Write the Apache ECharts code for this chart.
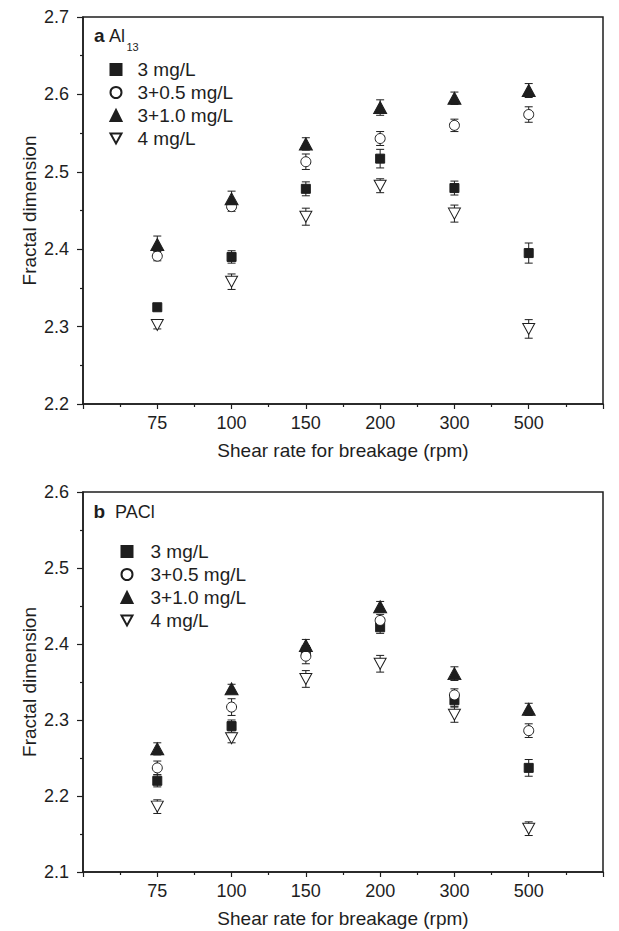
<!DOCTYPE html>
<html>
<head>
<meta charset="utf-8">
<script src="https://cdn.jsdelivr.net/npm/echarts@6/dist/echarts.min.js"></script>
<style>html,body{margin:0;padding:0;background:#fff;}#c{width:619px;height:931px;}</style>
</head>
<body>
<div id="c"></div>
<script>
// ---- data ----
const categories = ['75', '100', '150', '200', '300', '500'];
const seriesNames = ['3 mg/L', '3+0.5 mg/L', '3+1.0 mg/L', '4 mg/L'];
const yTicksA = ['2.2', '2.3', '2.4', '2.5', '2.6', '2.7'];
const yTicksB = ['2.1', '2.2', '2.3', '2.4', '2.5', '2.6'];

// panel a: Al13
const a_3      = [2.325, 2.390, 2.478, 2.517, 2.479, 2.395];
const a_3_05   = [2.391, 2.455, 2.513, 2.543, 2.560, 2.574];
const a_3_10   = [2.406, 2.465, 2.536, 2.583, 2.595, 2.605];
const a_4      = [2.302, 2.358, 2.442, 2.482, 2.446, 2.297];
const a_3_err    = [0.003, 0.008, 0.009, 0.012, 0.009, 0.013];
const a_3_05_err = [0.006, 0.006, 0.010, 0.009, 0.008, 0.010];
const a_3_10_err = [0.011, 0.010, 0.008, 0.010, 0.008, 0.009];
const a_4_err    = [0.005, 0.010, 0.011, 0.009, 0.011, 0.012];

// panel b: PACl
const b_3      = [2.220, 2.292, 2.390, 2.422, 2.326, 2.237];
const b_3_05   = [2.237, 2.317, 2.384, 2.431, 2.333, 2.286];
const b_3_10   = [2.262, 2.341, 2.398, 2.449, 2.361, 2.314];
const b_4      = [2.186, 2.276, 2.354, 2.374, 2.307, 2.157];
const b_3_err    = [0.008, 0.008, 0.008, 0.008, 0.008, 0.011];
const b_3_05_err = [0.009, 0.011, 0.010, 0.008, 0.008, 0.009];
const b_3_10_err = [0.008, 0.006, 0.008, 0.007, 0.009, 0.008];
const b_4_err    = [0.009, 0.006, 0.011, 0.011, 0.010, 0.009];

// ---- build ----
const FONT = 'Liberation Sans, Arial, Helvetica, sans-serif';
const INK = '#1e1e1e';
const downTri = 'path://M0,0 L10,0 L5,9 Z';
const symbols = [
  {symbol: 'rect', size: 9, fill: INK},
  {symbol: 'circle', size: 10, fill: '#fff'},
  {symbol: 'triangle', size: [13, 12], fill: INK},
  {symbol: downTri, size: [12, 11], fill: '#fff'}
];
// category index -> position on the value axis (categories sit on even units)
const xPos = categories.map((c, i) => (i + 1) * 2);

const chart = echarts.init(document.getElementById('c'), null, {renderer: 'svg'});

function xAxisDef(gridIndex) {
  return {
    type: 'value', gridIndex, min: 0, max: 14, interval: 2,
    name: 'Shear rate for breakage (rpm)', nameLocation: 'middle', nameGap: 37,
    nameMoveOverlap: false,
    nameTextStyle: {fontFamily: FONT, fontSize: 19, color: INK},
    axisLine: {lineStyle: {color: INK, width: 1.5}},
    axisTick: {length: 5, lineStyle: {color: INK, width: 1.2}},
    minorTick: {show: true, splitNumber: 2, length: 3, lineStyle: {color: INK, width: 1.2}},
    splitLine: {show: false},
    axisLabel: {
      fontFamily: FONT, fontSize: 18, color: INK, margin: 10,
      formatter: v => (v > 0 && v < 14 && v % 2 === 0) ? categories[v / 2 - 1] : ''
    }
  };
}
function yAxisDef(gridIndex, ticks) {
  return {
    type: 'value', gridIndex,
    min: parseFloat(ticks[0]), max: parseFloat(ticks[ticks.length - 1]), interval: 0.1,
    name: 'Fractal dimension', nameLocation: 'middle', nameGap: 44, nameRotate: 90,
    nameMoveOverlap: false,
    nameTextStyle: {fontFamily: FONT, fontSize: 19, color: INK},
    axisLine: {show: true, lineStyle: {color: INK, width: 1.5}},
    axisTick: {length: 6, lineStyle: {color: INK, width: 1.2}},
    minorTick: {show: true, splitNumber: 2, length: 3, lineStyle: {color: INK, width: 1.2}},
    splitLine: {show: false},
    axisLabel: {fontFamily: FONT, fontSize: 18, color: INK, margin: 14,
      formatter: v => v.toFixed(1)}
  };
}

const panels = [
  {vals: [a_3, a_3_05, a_3_10, a_4], errs: [a_3_err, a_3_05_err, a_3_10_err, a_4_err]},
  {vals: [b_3, b_3_05, b_3_10, b_4], errs: [b_3_err, b_3_05_err, b_3_10_err, b_4_err]}
];

const series = [];
panels.forEach((p, pi) => {
  p.vals.forEach((vals, si) => {
    const s = symbols[si];
    series.push({
      type: 'scatter', name: seriesNames[si], xAxisIndex: pi, yAxisIndex: pi, z: 3,
      symbol: s.symbol, symbolSize: s.size,
      itemStyle: {color: s.fill, borderColor: INK, borderWidth: 1, opacity: 1},
      emphasis: {disabled: true},
      data: vals.map((v, i) => [xPos[i], v])
    });
  });
});
panels.forEach((p, pi) => {
  p.vals.forEach((vals, si) => {
    series.push({
      type: 'custom', xAxisIndex: pi, yAxisIndex: pi, z: 2, silent: true,
      data: vals.map((v, i) => [xPos[i], v, p.errs[si][i]]),
      renderItem: function (params, api) {
        const x = api.value(0), y = api.value(1), e = api.value(2);
        const t = api.coord([x, y + e]), b = api.coord([x, y - e]);
        const hw = 4;
        const st = {stroke: INK, lineWidth: 1};
        return {type: 'group', children: [
          {type: 'line', shape: {x1: t[0], y1: t[1], x2: b[0], y2: b[1]}, style: st},
          {type: 'line', shape: {x1: t[0] - hw, y1: t[1], x2: t[0] + hw, y2: t[1]}, style: st},
          {type: 'line', shape: {x1: b[0] - hw, y1: b[1], x2: b[0] + hw, y2: b[1]}, style: st}
        ]};
      }
    });
  });
});

function legendDef(top, left, padLeft) {
  return {
    data: seriesNames, orient: 'vertical', left, top,
    itemWidth: 11, itemHeight: 11, itemGap: 4, selectedMode: false,
    textStyle: {fontFamily: FONT, fontSize: 19, color: INK, lineHeight: 19, padding: [0, 0, 0, padLeft]}
  };
}

const option = {
  backgroundColor: '#fff',
  animation: false,
  grid: [
    {left: 83, right: 16, top: 17, height: 387, show: true, borderColor: INK, borderWidth: 1.5, containLabel: false},
    {left: 83, right: 16, top: 492, height: 380, show: true, borderColor: INK, borderWidth: 1.5, containLabel: false}
  ],
  xAxis: [xAxisDef(0), xAxisDef(1)],
  yAxis: [yAxisDef(0, yTicksA), yAxisDef(1, yTicksB)],
  legend: [legendDef(55, 104.5, 11), legendDef(537, 115.5, 13)],
  graphic: [
    {type: 'text', left: 94, top: 26, style: {text: 'a', font: 'bold 19px ' + FONT, fill: INK}},
    {type: 'text', left: 109, top: 27, style: {text: 'Al', font: '18px ' + FONT, fill: INK}},
    {type: 'text', left: 126.5, top: 41, style: {text: '13', font: '11px ' + FONT, fill: INK}},
    {type: 'text', left: 93.5, top: 502, style: {text: 'b', font: 'bold 19px ' + FONT, fill: INK}},
    {type: 'text', left: 115, top: 503, style: {text: 'PACl', font: '18px ' + FONT, fill: INK}}
  ],
  series
};
chart.setOption(option);
</script>
</body>
</html>
